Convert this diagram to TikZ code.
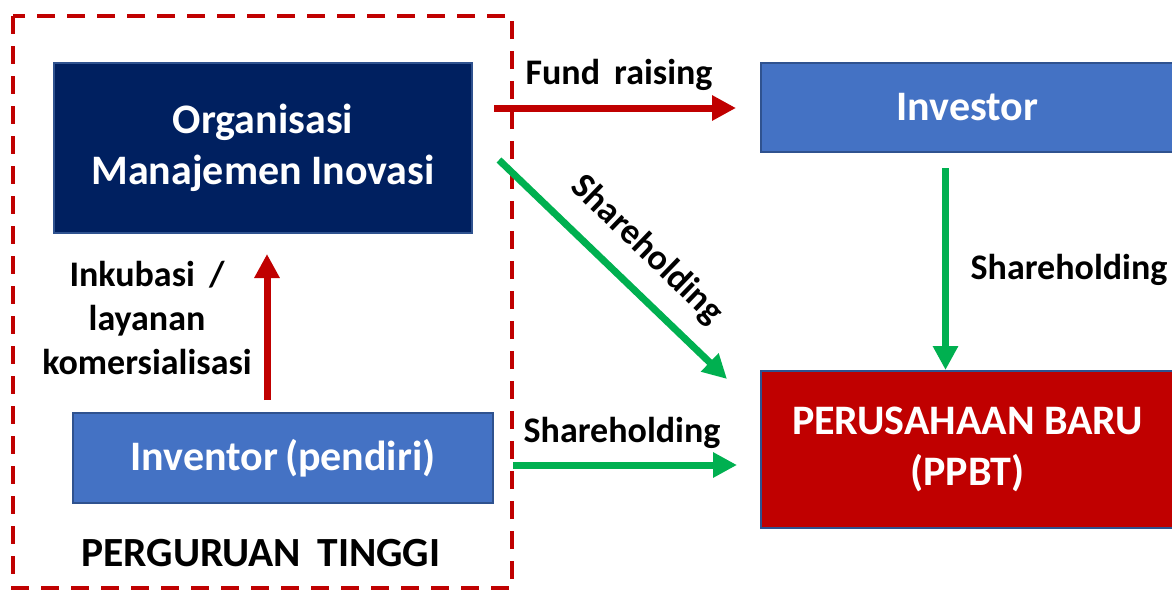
\documentclass[tikz,border=0pt]{standalone}
\usepackage{fontspec}
\setmainfont{Carlito}
\usetikzlibrary{arrows.meta,calc}
\definecolor{navy}{HTML}{002060}
\definecolor{boxblue}{HTML}{4472C4}
\definecolor{edgeblue}{HTML}{2F528F}
\definecolor{darkred}{HTML}{C00000}
\definecolor{arrowgreen}{HTML}{00B050}
\begin{document}
\begin{tikzpicture}[x=1pt,y=-1pt,
  box/.style={draw=edgeblue, line width=2pt, text=white, align=center,
    font=\fontsize{42}{51}\selectfont\bfseries, inner sep=0pt},
  lbl/.style={text=black, align=center, font=\fontsize{36}{44}\selectfont\bfseries, inner sep=0pt},
  redarrow/.style={draw=darkred, line width=7pt, -{Triangle[width=24pt,length=24pt]}},
  greenarrow/.style={draw=arrowgreen, line width=7pt, -{Triangle[width=24pt,length=24pt]}}]
\useasboundingbox (0,0) rectangle (1172,589);

% university frame
\draw[darkred, line width=3.5pt, dash pattern=on 18pt off 12pt] (13,16) rectangle (512,588);

% boxes
\node[box, fill=navy, minimum width=418pt, minimum height=170pt] (org) at (263,148)
  {Organisasi\\Manajemen Inovasi};
\node[box, fill=boxblue, minimum width=420pt, minimum height=90pt] (inventor) at (283,458)
  {Inventor\,(pendiri)};
\node[box, fill=boxblue, minimum width=413pt, minimum height=89pt] (inv) at (967.5,107.5)
  {Investor};
\node[box, fill=darkred, minimum width=413pt, minimum height=157pt] (ppbt) at (967.5,449.5)
  {PERUSAHAAN BARU\\(PPBT)};

% connector end points
\coordinate (f1) at ($(org.east)+(21,-40)$);
\coordinate (f2) at ($(inv.west)+(-24,0)$);
\coordinate (d1) at ($(org.east)+(26,12)$);
\coordinate (d2) at ($(ppbt.north west)+(-33,9)$);
\coordinate (v1) at ($(inv.south)+(-22,15)$);
\coordinate (v2) at ($(ppbt.north)+(-22,0)$);
\coordinate (h1) at ($(inventor.east)+(19,7)$);
\coordinate (h2) at ($(ppbt.west)+(-23,0)$);
\coordinate (r1) at ($(inventor.north)+(-16,-12)$);
\coordinate (r2) at ($(org.south)+(4,20)$);

% connectors
\draw[redarrow] (f1) -- (f1 -| f2);
\draw[greenarrow] (d1) -- (d2);
\draw[greenarrow] (v1) -- (v1 |- v2);
\draw[greenarrow] (h1) -- (h1 -| h2);
\draw[redarrow] (r1) -- (r1 |- r2);

% labels
\node[lbl] (lfund) at (619,75) {Fund\, raising};
\node[lbl, rotate=-44] (ldiag) at (647,250) {Shareholding};
\node[lbl] (lvert) at (1069,270) {Shareholding};
\node[lbl] (lhor) at (622,433) {Shareholding};
\node[lbl] (linc) at (147,318) {Inkubasi \,/\\layanan\\komersialisasi};
\node[lbl, font=\fontsize{41.5}{48}\selectfont\bfseries] (lpt) at (261,553) {PERGURUAN\, TINGGI};
\end{tikzpicture}
\end{document}
